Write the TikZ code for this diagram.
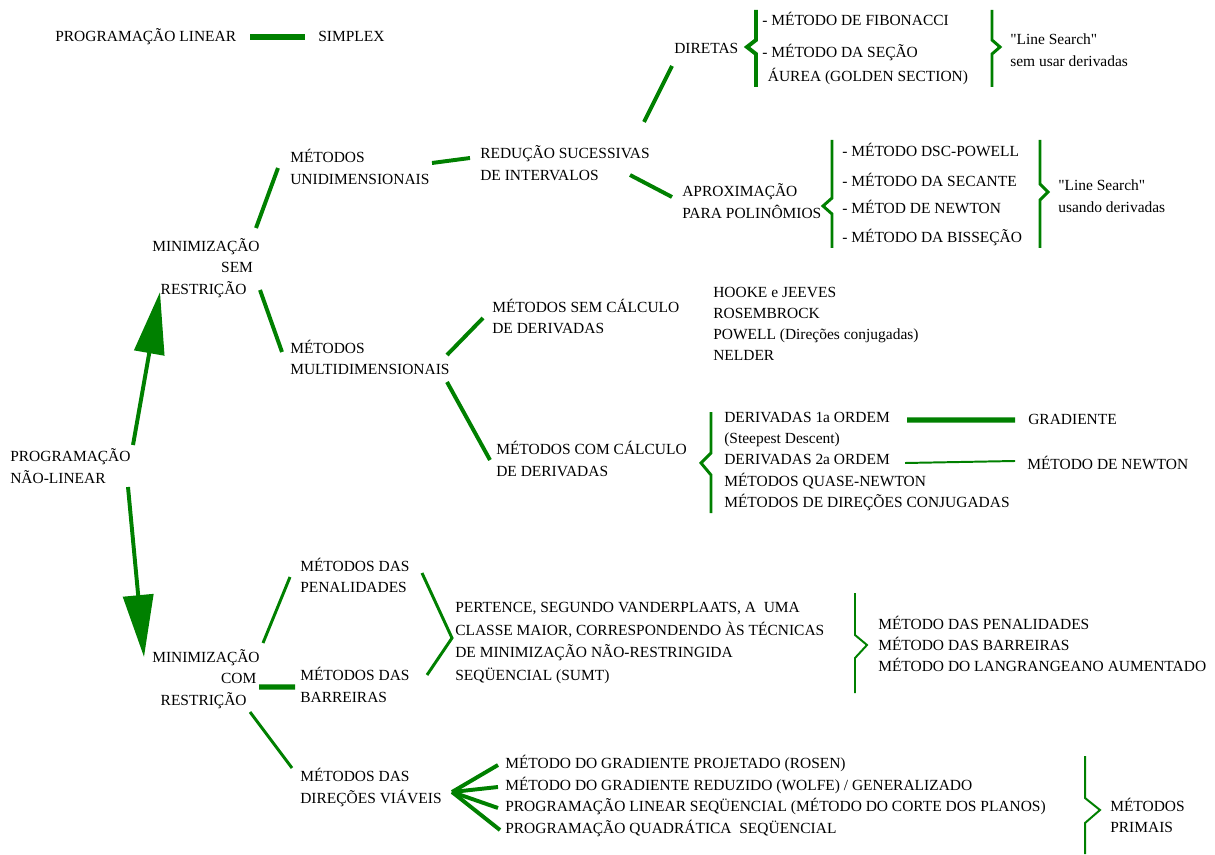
\documentclass[tikz,border=0pt]{standalone}
\usepackage{fontspec}
\setmainfont{Liberation Serif}
\usepackage{xcolor}
\usepackage{tikz}
\usetikzlibrary{arrows.meta}
\definecolor{linegreen}{RGB}{0,128,0}
\newcommand{\straightquote}{\XeTeXglyph\XeTeXcharglyph"22\relax}
\tikzstyle{entry}=[anchor=west, align=left, inner sep=0pt, font=\fontsize{11}{15.5}\selectfont]
\tikzstyle{heavy edge}=[-, draw=linegreen, line width=3.6pt]
\tikzstyle{green edge}=[-, draw=linegreen, line width=2.8pt]
\tikzstyle{medium edge}=[-, draw=linegreen, line width=2.1pt]
\tikzstyle{thin edge}=[-, draw=linegreen, line width=1.4pt]
\tikzstyle{big arrow}=[-{Triangle[length=1.55cm, width=0.75cm]}, draw=linegreen, line width=2.8pt]
\pgfdeclarelayer{nodelayer}
\pgfdeclarelayer{edgelayer}
\pgfsetlayers{main,nodelayer,edgelayer}

\begin{document}
\begin{tikzpicture}
	\useasboundingbox (0, 0) rectangle (30.375, 21.35);
	\begin{pgfonlayer}{nodelayer}
		\node [style=entry] (0) at (1.375, 20.425) {PROGRAMAÇÃO LINEAR};
		\node [style=entry] (1) at (7.95, 20.45) {SIMPLEX};
		\node [style=entry] (2) at (16.85, 20.15) {DIRETAS};
		\node [style=entry] (3) at (19.05, 20.875) {- MÉTODO DE FIBONACCI};
		\node [style=entry] (4) at (19.05, 19.7375) {- MÉTODO DA SEÇÃO\\[1pt]\hspace*{4pt}ÁUREA (GOLDEN SECTION)};
		\node [style=entry] (5) at (25.25, 20.0875) {\straightquote Line Search\straightquote\\sem usar derivadas};
		\node [style=entry] (6) at (12.0, 17.2625) {REDUÇÃO SUCESSIVAS\\DE INTERVALOS};
		\node [style=entry] (7) at (17.05, 16.325) {APROXIMAÇÃO\\PARA POLINÔMIOS};
		\node [style=entry] (8) at (21.05, 17.6) {- MÉTODO DSC-POWELL};
		\node [style=entry] (9) at (21.05, 16.85) {- MÉTODO DA SECANTE};
		\node [style=entry] (10) at (21.05, 16.175) {- MÉTOD DE NEWTON};
		\node [style=entry] (11) at (21.05, 15.4) {- MÉTODO DA BISSEÇÃO};
		\node [style=entry] (12) at (26.45, 16.4375) {\straightquote Line Search\straightquote\\usando derivadas};
		\node [style=entry] (13) at (7.25, 17.175) {MÉTODOS\\UNIDIMENSIONAIS};
		\node [style=entry] (14) at (3.8, 14.65) {MINIMIZAÇÃO\\\hspace*{49pt}SEM\\\hspace*{6pt}RESTRIÇÃO};
		\node [style=entry] (15) at (7.25, 12.4125) {MÉTODOS\\MULTIDIMENSIONAIS};
		\node [style=entry] (16) at (12.3, 13.4375) {MÉTODOS SEM CÁLCULO\\DE DERIVADAS};
		\node [style=entry, font=\fontsize{11}{14.9}\selectfont] (17) at (17.825, 13.2625) {HOOKE e JEEVES\\ROSEMBROCK\\POWELL (Direções conjugadas)\\NELDER};
		\node [style=entry] (18) at (12.4, 9.875) {MÉTODOS COM CÁLCULO\\DE DERIVADAS};
		\node [style=entry, font=\fontsize{11}{15.1}\selectfont] (19) at (18.1, 9.8125) {DERIVADAS 1a ORDEM\\(Steepest Descent)\\DERIVADAS 2a ORDEM\\MÉTODOS QUASE-NEWTON\\MÉTODOS DE DIREÇÕES CONJUGADAS};
		\node [style=entry] (20) at (25.7, 10.875) {GRADIENTE};
		\node [style=entry] (21) at (25.675, 9.775) {MÉTODO DE NEWTON};
		\node [style=entry] (22) at (0.25, 9.7) {PROGRAMAÇÃO\\NÃO-LINEAR};
		\node [style=entry] (23) at (3.8, 4.375) {MINIMIZAÇÃO\\\hspace*{49pt}COM\\\hspace*{6pt}RESTRIÇÃO};
		\node [style=entry] (24) at (7.5, 6.9625) {MÉTODOS DAS\\PENALIDADES};
		\node [style=entry] (25) at (7.5, 4.225) {MÉTODOS DAS\\BARREIRAS};
		\node [style=entry, font=\fontsize{11}{16.1}\selectfont] (26) at (11.375, 5.275) {PERTENCE, SEGUNDO VANDERPLAATS, A\ \ UMA\\CLASSE MAIOR, CORRESPONDENDO ÀS TÉCNICAS\\DE MINIMIZAÇÃO NÃO-RESTRINGIDA\\SEQÜENCIAL (SUMT)};
		\node [style=entry, font=\fontsize{11}{14.9}\selectfont] (27) at (21.95, 5.25) {MÉTODO DAS PENALIDADES\\MÉTODO DAS BARREIRAS\\MÉTODO DO LANGRANGEANO AUMENTADO};
		\node [style=entry] (28) at (7.5, 1.6625) {MÉTODOS DAS\\DIREÇÕES VIÁVEIS};
		\node [style=entry, font=\fontsize{11}{15.6}\selectfont] (29) at (12.625, 1.45) {MÉTODO DO GRADIENTE PROJETADO (ROSEN)\\MÉTODO DO GRADIENTE REDUZIDO (WOLFE) / GENERALIZADO\\PROGRAMAÇÃO LINEAR SEQÜENCIAL (MÉTODO DO CORTE DOS PLANOS)\\PROGRAMAÇÃO QUADRÁTICA\ \ SEQÜENCIAL};
		\node [style=entry] (30) at (27.75, 0.9625) {MÉTODOS\\PRIMAIS};
	\end{pgfonlayer}
	\begin{pgfonlayer}{edgelayer}
		\draw [style=heavy edge] ([shift={(4.875,0)}]0.west) to ([shift={(-0.325,-0.025)}]1.west);
		\draw [style=green edge] ([shift={(4.1,1.0375)}]6.west) to ([shift={(-0.05,-0.45)}]2.west);
		\draw [style=green edge] ([shift={(3.55,0.1)}]13.west) to ([shift={(-0.25,0.1375)}]6.west);
		\draw [style=green edge] ([shift={(3.75,-0.2875)}]6.west) to ([shift={(-0.25,0.1)}]7.west);
		\draw [style=green edge] ([shift={(2.6,1.0)}]14.west) to ([shift={(-0.3,-0.025)}]13.west);
		\draw [style=green edge] ([shift={(2.7,-0.55)}]14.west) to ([shift={(-0.2,0.1375)}]15.west);
		\draw [style=green edge] ([shift={(3.925,0.0625)}]15.west) to ([shift={(-0.225,-0.0375)}]16.west);
		\draw [style=green edge] ([shift={(3.925,-0.6125)}]15.west) to ([shift={(-0.15,-0.025)}]18.west);
		\draw [style=heavy edge] ([shift={(4.575,1.0375)}]19.west) to ([shift={(-0.325,-0.025)}]20.west);
		\draw [style=thin edge] ([shift={(4.525,-0.0375)}]19.west) to ([shift={(-0.3,0.05)}]21.west);
		\draw [style=big arrow] ([shift={(3.075,0.525)}]22.west) to ([shift={(0.2,-0.6)}]14.west);
		\draw [style=big arrow] ([shift={(2.95,-0.525)}]22.west) to ([shift={(-0.2,0.55)}]23.west);
		\draw [style=medium edge] ([shift={(2.775,0.9)}]23.west) to ([shift={(-0.25,-0.0375)}]24.west);
		\draw [style=heavy edge] ([shift={(2.675,-0.2)}]23.west) to ([shift={(-0.125,-0.05)}]25.west);
		\draw [style=medium edge] ([shift={(2.45,-0.825)}]23.west) to ([shift={(-0.2,0.4875)}]28.west);
		\draw [style=medium edge] ([shift={(3.05,0.0625)}]24.west) -- ([shift={(-0.075,0.125)}]26.west) -- ([shift={(3.175,0.25)}]25.west);
		\draw [style=green edge] ([shift={(3.8,-0.1125)}]28.west) to ([shift={(-0.175,0.775)}]29.west);
		\draw [style=green edge] ([shift={(3.8,-0.1125)}]28.west) to ([shift={(-0.175,0.225)}]29.west);
		\draw [style=green edge] ([shift={(3.8,-0.1125)}]28.west) to ([shift={(-0.175,-0.3)}]29.west);
		\draw [style=green edge] ([shift={(3.8,-0.1125)}]28.west) to ([shift={(-0.125,-0.85)}]29.west);
		% braces
		\draw [style=green edge] (18.9, 21.1) -- (18.9, 20.35) -- (18.675, 20.175) -- (18.9, 20.0) -- (18.9, 19.175);
		\draw [style=medium edge] (24.8, 21.1) -- (24.8, 20.35) -- (25.0, 20.175) -- (24.8, 20.0) -- (24.8, 19.175);
		\draw [style=medium edge] (20.8, 17.85) -- (20.8, 16.4) -- (20.575, 16.2) -- (20.8, 16.0) -- (20.8, 15.15);
		\draw [style=medium edge] (26.0, 17.85) -- (26.0, 16.75) -- (26.2, 16.55) -- (26.0, 16.35) -- (26.0, 15.15);
		\draw [style=medium edge] (17.775, 11.05) -- (17.775, 10.025) -- (17.525, 9.775) -- (17.775, 9.475) -- (17.775, 8.525);
		\draw [style=thin edge] (21.375, 6.525) -- (21.375, 5.475) -- (21.675, 5.225) -- (21.375, 4.9) -- (21.375, 4.025);
		\draw [style=thin edge] (27.125, 2.45) -- (27.125, 1.4) -- (27.5, 1.1) -- (27.125, 0.775) -- (27.125, 0);
	\end{pgfonlayer}
\end{tikzpicture}
\end{document}
